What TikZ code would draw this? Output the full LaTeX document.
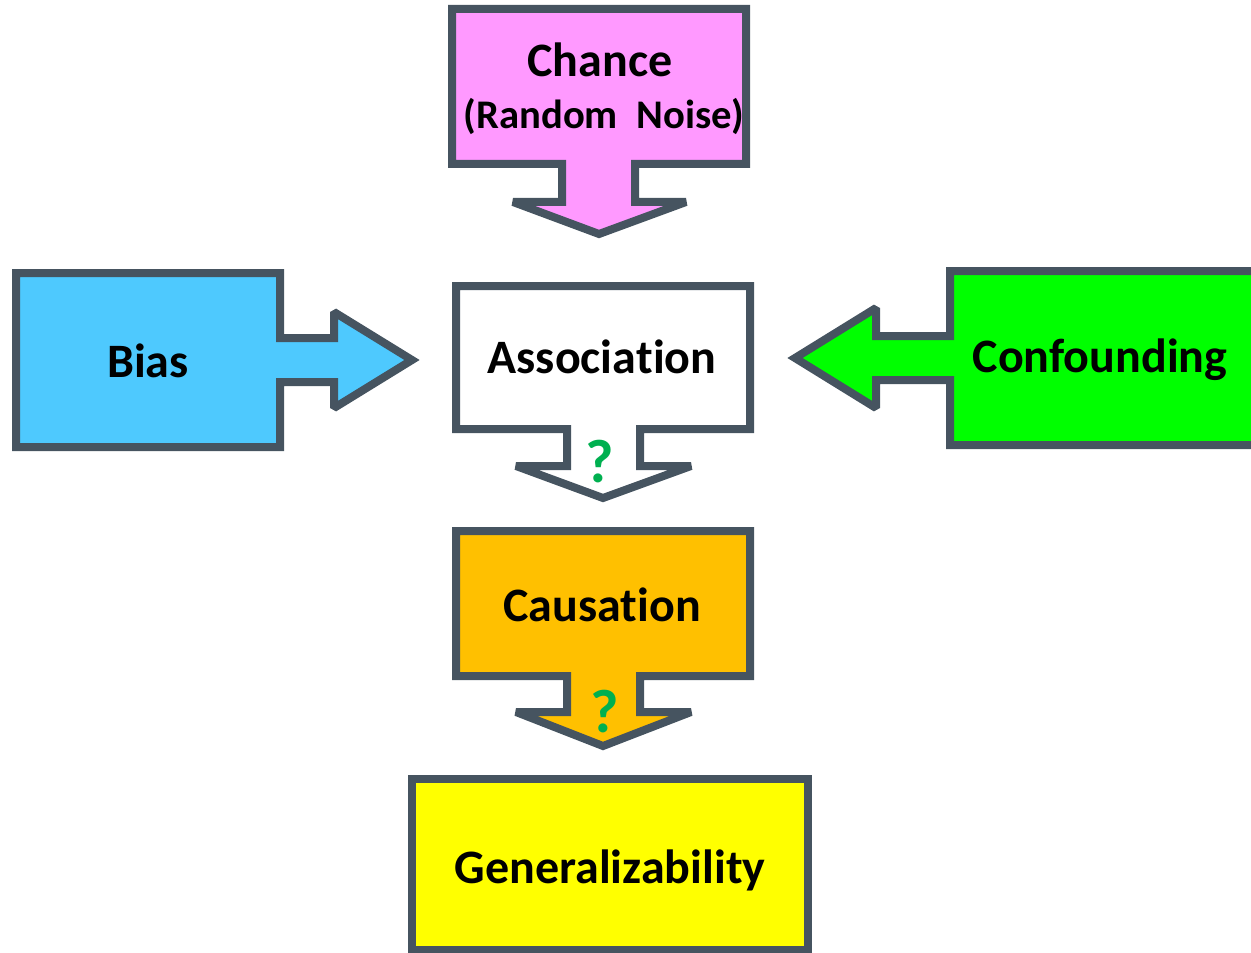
\documentclass[tikz,border=0pt]{standalone}
\usepackage{fontspec}
\setmainfont{Carlito}[Ligatures={NoCommon,NoContextual,NoRequired},Contextuals=NoAlternate]
\usepackage{tikz}
\usetikzlibrary{calc}

\definecolor{edgegray}{HTML}{465460}
\definecolor{chancepink}{HTML}{FF99FF}
\definecolor{biasblue}{HTML}{4EC9FE}
\definecolor{confgreen}{HTML}{00FF00}
\definecolor{causeorange}{HTML}{FFC000}
\definecolor{genyellow}{HTML}{FFFF00}
\definecolor{qgreen}{HTML}{00B050}

\begin{document}
\begin{tikzpicture}[x=0.75pt,y=-0.75pt,
  callout/.style={draw=edgegray,line width=6pt,line join=miter,miter limit=2},
  lbl/.style={font=\bfseries\fontsize{36}{40}\selectfont,anchor=base,inner sep=0pt},
  qmark/.style={font=\bfseries\fontsize{46}{50}\selectfont,anchor=base,inner sep=0pt,text=qgreen}]
  \clip (0,0) rectangle (1251,952);
  % Chance, arrow pointing down
  \draw[callout,fill=chancepink] (452,9)--(746,9)--(746,164)--(635,164)--(635,202)--(686,202)
    --(599,234)--(513,202)--(562,202)--(562,164)--(452,164)--cycle;
  \node[lbl] (chance) at (600,77) {Chance};
  \node[lbl,font=\bfseries\fontsize{30.5}{34}\selectfont] (noise) at (604,129) {(Random\ \ Noise)};
  % Association, arrow down to causation
  \draw[callout,fill=white] (456,286)--(750,286)--(750,429)--(640,429)--(640,466)--(691,466)
    --(603,498)--(516,466)--(567,466)--(567,429)--(456,429)--cycle;
  \node[lbl] (assoc) at (602,373) {Associa\kern0pt tion};
  \node[qmark] (q1) at (600,482) {?};
  % Bias, arrow pointing right
  \draw[callout,fill=biasblue] (16,273)--(280,273)--(280,338)--(334,338)--(334,312)
    --(412,360)--(334,408)--(334,382)--(280,382)--(280,447)--(16,447)--cycle;
  \node[lbl] (bias) at (148,377) {Bias};
  % Confounding, arrow pointing left
  \draw[callout,fill=confgreen] (950,271)--(1258,271)--(1258,445)--(950,445)--(950,380)
    --(876,380)--(876,408)--(795,358)--(876,308)--(876,336)--(950,336)--cycle;
  \node[lbl] (confound) at (1100,372) {Confounding};
  % Causation, arrow down to generalizability
  \draw[callout,fill=causeorange] (456,531)--(750,531)--(750,676)--(640,676)--(640,712)--(691,712)
    --(603,746)--(516,712)--(567,712)--(567,676)--(456,676)--cycle;
  \node[lbl] (causation) at (602,621) {Causa\kern0pt tion};
  \node[qmark] (q2) at (605,732) {?};
  % Generalizability
  \draw[callout,fill=genyellow] (412,779) rectangle (808,950);
  \node[lbl] (general) at (610,883) {Generalizability};
\end{tikzpicture}
\end{document}
